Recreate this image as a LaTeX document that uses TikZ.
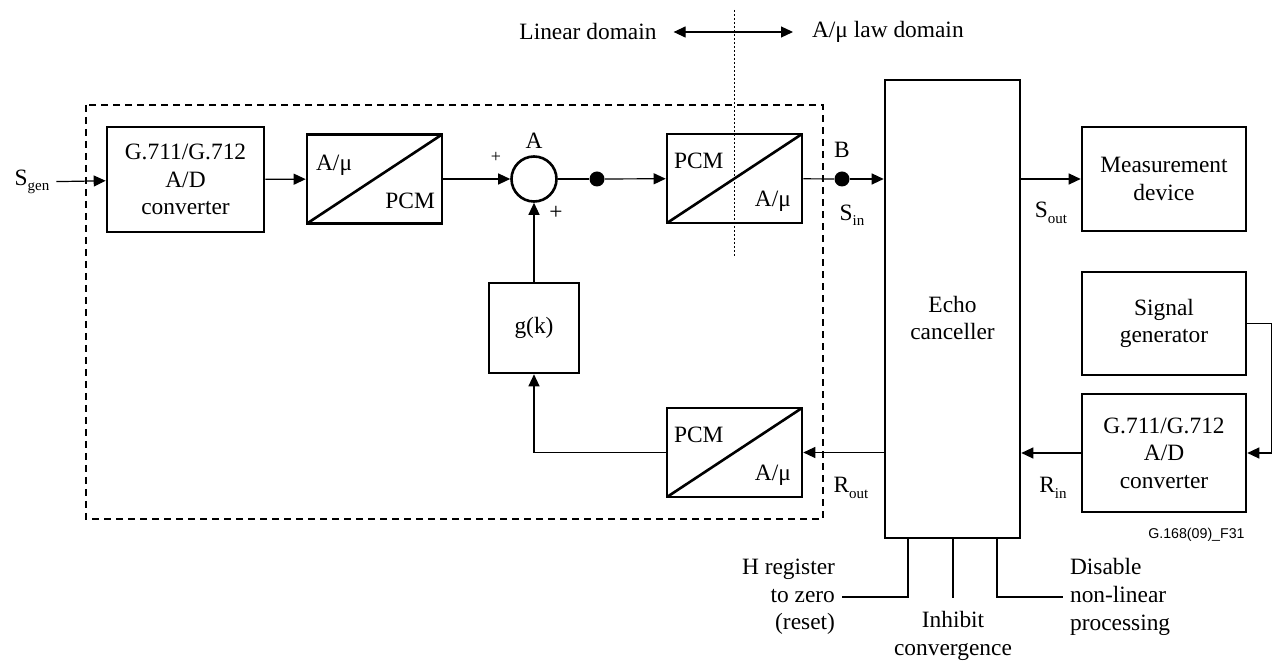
\documentclass[tikz,border=0pt]{standalone}
\usepackage{fontspec}
\setmainfont{Liberation Serif}
\newfontfamily\tagfont{Liberation Sans}
\usetikzlibrary{arrows.meta,positioning,calc}
\newcommand{\sig}[2]{#1\raisebox{-0.5ex}{\fontsize{7.5}{8}\selectfont #2}}

\begin{document}
\begin{tikzpicture}[x=0.5pt,y=-0.5pt,
  every node/.style={font=\fontsize{11.7}{13.8}\selectfont},
  blk/.style={draw,line width=1.3pt,align=center,inner sep=0pt},
  conv/.style={blk,minimum width=67.5pt,minimum height=44.5pt,
    path picture={\draw[line width=1.3pt] (path picture bounding box.south west) -- (path picture bounding box.north east);}},
  convtl/.style={anchor=base west,inner sep=0pt},
  convbr/.style={anchor=base east,inner sep=0pt},
  wire/.style={line width=0.6pt},
  sigarrow/.style={wire,-{Triangle[length=6pt,width=5.5pt]}},
  dotnode/.style={circle,fill,inner sep=0pt,minimum size=7.5pt}
]
  \useasboundingbox (0,0) rectangle (1276,662);

  % test set-up (dashed)
  \draw[wire,dash pattern=on 3.5pt off 2.5pt] (86,105) rectangle (823,519);
  \draw[line width=0.4pt,dash pattern=on 1pt off 1pt] (734,10) -- (734,256);

  % blocks
  \node[blk,minimum width=78.5pt,minimum height=52.5pt] (adc1) at (185.5,179.5) {G.711/G.712\\A/D\\converter};
  \node[conv] (pcm1) at (374.5,179) {};
  \node[circle,draw,line width=1.3pt,minimum size=22.5pt,inner sep=0pt] (sum) at (534,179) {};
  \node[dotnode] (d1) at (597,179) {};
  \node[conv] (pcm2) at (734.5,178.5) {};
  \node[dotnode] (d2) at (842,179) {};
  \node[blk,minimum width=45pt,minimum height=45pt] (gk) at (534,328) {g(k)};
  \node[conv] (pcm3) at (734.5,452.5) {};
  \node[blk,minimum width=67.5pt,minimum height=229pt] (echo) at (952.5,309) {};
  \node[align=center] (echotxt) at (952.5,318) {Echo\\canceller};
  \node[blk,minimum width=82pt,minimum height=52pt] (meas) at (1164,179) {Measurement\\device};
  \node[blk,minimum width=82pt,minimum height=51.5pt] (gen) at (1164,323.5) {Signal\\generator};
  \node[blk,minimum width=82pt,minimum height=59pt] (adc2) at (1164,453) {G.711/G.712\\A/D\\converter};

  % converter texts
  \node[convtl] (pcm1a) at ($(pcm1.north west)+(10,37)$) {A/μ};
  \node[convbr] (pcm1b) at ($(pcm1.south east)+(-8,-16)$) {PCM};
  \node[convtl] (pcm2a) at ($(pcm2.north west)+(8,36)$) {PCM};
  \node[convbr] (pcm2b) at ($(pcm2.south east)+(-12,-18)$) {A/μ};
  \node[convtl] (pcm3a) at ($(pcm3.north west)+(8,36)$) {PCM};
  \node[convbr] (pcm3b) at ($(pcm3.south east)+(-12,-18)$) {A/μ};

  % labels
  \node (sgen) at (32,182) {\sig{S}{gen}};
  \node (lblA) at (534,141) {A};
  \node[font=\fontsize{9}{10}\selectfont] (plusa) at (496,157) {+};
  \node (plusb) at (556,213) {+};
  \node (lblB) at (842,150) {B};
  \node (sin) at (852,215) {\sig{S}{in}};
  \node (sout) at (1051,213) {\sig{S}{out}};
  \node (rout) at (851,488) {\sig{R}{out}};
  \node (rin) at (1053,488) {\sig{R}{in}};
  \node (lin) at (588,32) {Linear domain};
  \node[anchor=west] (law) at (805,32) {A/μ law domain};
  \node[anchor=east,inner sep=0pt,font=\tagfont\fontsize{7.1}{8}\selectfont] (tag) at (1245,535) {G.168(09)\_F31};

  % forward path
  \draw[sigarrow] (sgen) -- (adc1);
  \draw[sigarrow] (adc1) -- (pcm1);
  \draw[sigarrow] (pcm1) -- (sum);
  \draw[wire] (sum) -- (d1);
  \draw[sigarrow] (d1) -- (pcm2);
  \draw[wire] (pcm2) -- (d2);
  \draw[sigarrow] (d2) -- (d2 -| echo.west);
  \draw[sigarrow] (echo.east |- meas) -- (meas);

  % return path
  \draw[sigarrow] (gen.east) -- ++(24,0) |- (adc2.east);
  \draw[sigarrow] (adc2) -- (adc2 -| echo.east);
  \draw[sigarrow] (echo.west |- pcm3) -- (pcm3);
  \draw[sigarrow] (pcm3.west) -| (gk.south);
  \draw[sigarrow] (gk) -- (sum);

  % domains
  \draw[wire,{Triangle[length=6pt,width=5.5pt]}-{Triangle[length=6pt,width=5.5pt]},shorten <=5pt,shorten >=6pt] (lin) -- (law);

  % control inputs
  \coordinate (hreg) at ($(echo.south)+(-44.5,0)$);
  \coordinate (inh) at ($(echo.south)+(0.5,0)$);
  \coordinate (dis) at ($(echo.south)+(44.5,0)$);
  \node[anchor=east,align=right] (hregtxt) at (842,597) {H register\\to zero\\(reset)};
  \node[align=center] (inhtxt) at (953,636) {Inhibit\\convergence};
  \node[anchor=west,align=left] (distxt) at (1063,597) {Disable\\non-linear\\processing};
  \draw[wire] (hreg) |- (hregtxt.east);
  \draw[wire] (inh) -- ++(0,59);
  \draw[wire] (dis) |- (distxt.west);
\end{tikzpicture}
\end{document}
